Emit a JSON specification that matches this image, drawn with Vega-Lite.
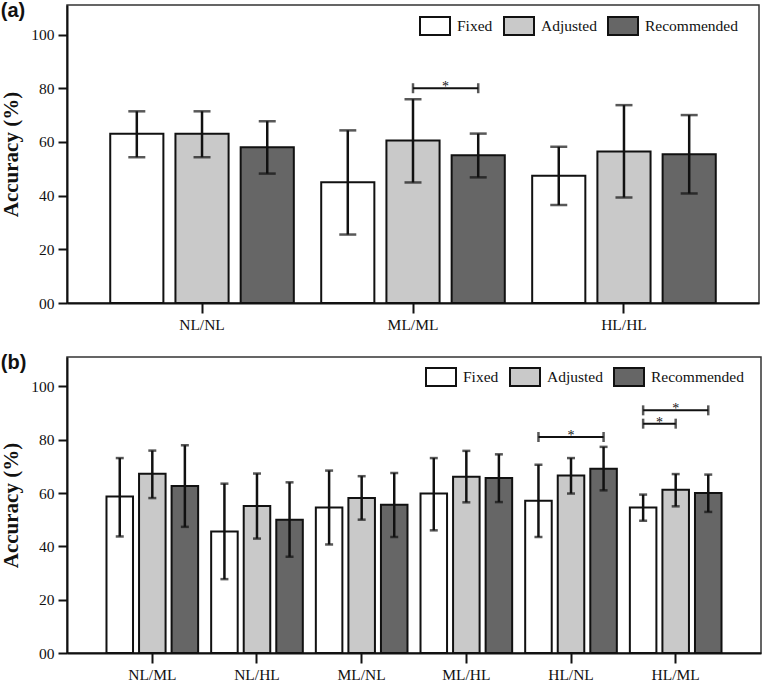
{
  "$schema": "https://vega.github.io/schema/vega-lite/v6.json",
  "padding": {"left": 0, "top": 0, "right": 0, "bottom": 0},
  "spacing": 18,
  "datasets": {
    "a": [
      {"group": "NL/NL", "series": "Fixed", "mean": 63, "lo": 54.3, "hi": 71.4},
      {"group": "NL/NL", "series": "Adjusted", "mean": 63, "lo": 54.3, "hi": 71.4},
      {"group": "NL/NL", "series": "Recommended", "mean": 58, "lo": 48.2, "hi": 67.7},
      {"group": "ML/ML", "series": "Fixed", "mean": 45, "lo": 25.5, "hi": 64.3},
      {"group": "ML/ML", "series": "Adjusted", "mean": 60.5, "lo": 44.9, "hi": 75.9},
      {"group": "ML/ML", "series": "Recommended", "mean": 55, "lo": 46.8, "hi": 63.1},
      {"group": "HL/HL", "series": "Fixed", "mean": 47.4, "lo": 36.5, "hi": 58.2},
      {"group": "HL/HL", "series": "Adjusted", "mean": 56.4, "lo": 39.3, "hi": 73.7},
      {"group": "HL/HL", "series": "Recommended", "mean": 55.4, "lo": 40.8, "hi": 70}
    ],
    "sigA": [
      {"group": "ML/ML", "left": "Adjusted", "right": "Recommended", "y": 80}
    ],
    "b": [
      {"group": "NL/ML", "series": "Fixed", "mean": 58.7, "lo": 43.7, "hi": 73.1},
      {"group": "NL/ML", "series": "Adjusted", "mean": 67.2, "lo": 58.1, "hi": 75.9},
      {"group": "NL/ML", "series": "Recommended", "mean": 62.6, "lo": 47.3, "hi": 77.9},
      {"group": "NL/HL", "series": "Fixed", "mean": 45.6, "lo": 27.7, "hi": 63.5},
      {"group": "NL/HL", "series": "Adjusted", "mean": 55.1, "lo": 42.9, "hi": 67.3},
      {"group": "NL/HL", "series": "Recommended", "mean": 50, "lo": 36.1, "hi": 64},
      {"group": "ML/NL", "series": "Fixed", "mean": 54.6, "lo": 40.7, "hi": 68.4},
      {"group": "ML/NL", "series": "Adjusted", "mean": 58.1, "lo": 50, "hi": 66.3},
      {"group": "ML/NL", "series": "Recommended", "mean": 55.6, "lo": 43.5, "hi": 67.5},
      {"group": "ML/HL", "series": "Fixed", "mean": 59.8, "lo": 46, "hi": 73.1},
      {"group": "ML/HL", "series": "Adjusted", "mean": 66.1, "lo": 56.5, "hi": 75.8},
      {"group": "ML/HL", "series": "Recommended", "mean": 65.6, "lo": 56.6, "hi": 74.5},
      {"group": "HL/NL", "series": "Fixed", "mean": 57.1, "lo": 43.5, "hi": 70.6},
      {"group": "HL/NL", "series": "Adjusted", "mean": 66.6, "lo": 59.8, "hi": 73.1},
      {"group": "HL/NL", "series": "Recommended", "mean": 69.1, "lo": 61, "hi": 77.3},
      {"group": "HL/ML", "series": "Fixed", "mean": 54.6, "lo": 49.6, "hi": 59.4},
      {"group": "HL/ML", "series": "Adjusted", "mean": 61.2, "lo": 55, "hi": 67.1},
      {"group": "HL/ML", "series": "Recommended", "mean": 60, "lo": 52.9, "hi": 66.9}
    ],
    "sigB": [
      {"group": "HL/NL", "left": "Fixed", "right": "Recommended", "y": 81},
      {"group": "HL/ML", "left": "Fixed", "right": "Adjusted", "y": 86},
      {"group": "HL/ML", "left": "Fixed", "right": "Recommended", "y": 91}
    ]
  },
  "vconcat": [
    {
      "width": 692,
      "height": 298,
      "title": {"text": "(a)"},
      "layer": [
        {
          "data": {"name": "a"},
          "mark": {"type": "bar", "stroke": "#111111", "strokeWidth": 2},
          "encoding": {
            "x": {"field": "group", "type": "nominal", "scale": {"domain": ["NL/NL", "ML/ML", "HL/HL"], "paddingInner": 0, "paddingOuter": 0.14}, "axis": {"title": null, "labelAngle": 0}},
            "xOffset": {"field": "series", "type": "nominal", "scale": {"domain": ["Fixed", "Adjusted", "Recommended"], "paddingInner": 0.185, "paddingOuter": 0.21}},
            "y": {"field": "mean", "type": "quantitative", "title": "Accuracy (%)", "scale": {"domain": [0, 111], "nice": false}, "axis": {"values": [0, 20, 40, 60, 80, 100], "labelExpr": "datum.value == 0 ? '00' : datum.label"}},
            "fill": {"field": "series", "type": "nominal", "scale": {"domain": ["Fixed", "Adjusted", "Recommended"], "range": ["#ffffff", "#c9c9c9", "#666666"]}, "legend": {"title": null, "orient": "none", "legendX": 352, "legendY": 5}}
          }
        },
        {
          "data": {"name": "a"},
          "mark": {"type": "rule", "color": "#111111", "strokeWidth": 2.5},
          "encoding": {
            "x": {"field": "group", "type": "nominal"},
            "xOffset": {"field": "series", "type": "nominal"},
            "y": {"field": "lo", "type": "quantitative", "title": "Accuracy (%)"},
            "y2": {"field": "hi"}
          }
        },
        {
          "data": {"name": "a"},
          "mark": {"type": "tick", "color": "#111111", "thickness": 2.5, "size": 17, "orient": "horizontal"},
          "encoding": {
            "x": {"field": "group", "type": "nominal"},
            "xOffset": {"field": "series", "type": "nominal"},
            "y": {"field": "lo", "type": "quantitative", "title": "Accuracy (%)"}
          }
        },
        {
          "data": {"name": "a"},
          "mark": {"type": "tick", "color": "#111111", "thickness": 2.5, "size": 17, "orient": "horizontal"},
          "encoding": {
            "x": {"field": "group", "type": "nominal"},
            "xOffset": {"field": "series", "type": "nominal"},
            "y": {"field": "hi", "type": "quantitative", "title": "Accuracy (%)"}
          }
        },
        {
          "data": {"name": "sigA"},
          "transform": [{"fold": ["left", "right"], "as": ["end", "series"]}],
          "mark": {"type": "line", "color": "#111111", "strokeWidth": 2},
          "encoding": {
            "x": {"field": "group", "type": "nominal"},
            "xOffset": {"field": "series", "type": "nominal"},
            "y": {"field": "y", "type": "quantitative", "title": "Accuracy (%)"},
            "detail": {"field": "y"}
          }
        },
        {
          "data": {"name": "sigA"},
          "transform": [{"fold": ["left", "right"], "as": ["end", "series"]}],
          "mark": {"type": "tick", "color": "#111111", "thickness": 2.5, "size": 10, "orient": "vertical"},
          "encoding": {
            "x": {"field": "group", "type": "nominal"},
            "xOffset": {"field": "series", "type": "nominal"},
            "y": {"field": "y", "type": "quantitative", "title": "Accuracy (%)"}
          }
        },
        {
          "data": {"name": "sigA"},
          "mark": {"type": "text", "text": "*", "fontSize": 14, "font": "Liberation Serif", "baseline": "alphabetic", "dy": 3, "dx": 32.5, "fill": "#111111"},
          "encoding": {
            "x": {"field": "group", "type": "nominal"},
            "xOffset": {"field": "left", "type": "nominal"},
            "y": {"field": "y", "type": "quantitative", "title": "Accuracy (%)"}
          }
        }
      ]
    },
    {
      "width": 694,
      "height": 296,
      "title": {"text": "(b)"},
      "layer": [
        {
          "data": {"name": "b"},
          "mark": {"type": "bar", "stroke": "#111111", "strokeWidth": 2},
          "encoding": {
            "x": {"field": "group", "type": "nominal", "scale": {"domain": ["NL/ML", "NL/HL", "ML/NL", "ML/HL", "HL/NL", "HL/ML"], "paddingInner": 0, "paddingOuter": 0.315}, "axis": {"title": null, "labelAngle": 0}},
            "xOffset": {"field": "series", "type": "nominal", "scale": {"domain": ["Fixed", "Adjusted", "Recommended"], "paddingInner": 0.185, "paddingOuter": 0.2}},
            "y": {"field": "mean", "type": "quantitative", "title": "Accuracy (%)", "scale": {"domain": [0, 111], "nice": false}, "axis": {"values": [0, 20, 40, 60, 80, 100], "labelExpr": "datum.value == 0 ? '00' : datum.label"}},
            "fill": {"field": "series", "type": "nominal", "scale": {"domain": ["Fixed", "Adjusted", "Recommended"], "range": ["#ffffff", "#c9c9c9", "#666666"]}, "legend": {"title": null, "orient": "none", "legendX": 358, "legendY": 4}}
          }
        },
        {
          "data": {"name": "b"},
          "mark": {"type": "rule", "color": "#111111", "strokeWidth": 2.5},
          "encoding": {
            "x": {"field": "group", "type": "nominal"},
            "xOffset": {"field": "series", "type": "nominal"},
            "y": {"field": "lo", "type": "quantitative", "title": "Accuracy (%)"},
            "y2": {"field": "hi"}
          }
        },
        {
          "data": {"name": "b"},
          "mark": {"type": "tick", "color": "#111111", "thickness": 2.5, "size": 8, "orient": "horizontal"},
          "encoding": {
            "x": {"field": "group", "type": "nominal"},
            "xOffset": {"field": "series", "type": "nominal"},
            "y": {"field": "lo", "type": "quantitative", "title": "Accuracy (%)"}
          }
        },
        {
          "data": {"name": "b"},
          "mark": {"type": "tick", "color": "#111111", "thickness": 2.5, "size": 8, "orient": "horizontal"},
          "encoding": {
            "x": {"field": "group", "type": "nominal"},
            "xOffset": {"field": "series", "type": "nominal"},
            "y": {"field": "hi", "type": "quantitative", "title": "Accuracy (%)"}
          }
        },
        {
          "data": {"name": "sigB"},
          "transform": [{"fold": ["left", "right"], "as": ["end", "series"]}],
          "mark": {"type": "line", "color": "#111111", "strokeWidth": 2},
          "encoding": {
            "x": {"field": "group", "type": "nominal"},
            "xOffset": {"field": "series", "type": "nominal"},
            "y": {"field": "y", "type": "quantitative", "title": "Accuracy (%)"},
            "detail": {"field": "y"}
          }
        },
        {
          "data": {"name": "sigB"},
          "transform": [{"fold": ["left", "right"], "as": ["end", "series"]}],
          "mark": {"type": "tick", "color": "#111111", "thickness": 2.5, "size": 10, "orient": "vertical"},
          "encoding": {
            "x": {"field": "group", "type": "nominal"},
            "xOffset": {"field": "series", "type": "nominal"},
            "y": {"field": "y", "type": "quantitative", "title": "Accuracy (%)"}
          }
        },
        {
          "data": {"name": "sigB"},
          "transform": [{"filter": "datum.left == 'Fixed' && datum.right == 'Recommended'"}],
          "mark": {"type": "text", "text": "*", "fontSize": 14, "font": "Liberation Serif", "baseline": "alphabetic", "dy": 3, "fill": "#111111"},
          "encoding": {
            "x": {"field": "group", "type": "nominal"},
            "y": {"field": "y", "type": "quantitative", "title": "Accuracy (%)"}
          }
        },
        {
          "data": {"name": "sigB"},
          "transform": [{"filter": "!(datum.left == 'Fixed' && datum.right == 'Recommended')"}],
          "mark": {"type": "text", "text": "*", "fontSize": 14, "font": "Liberation Serif", "baseline": "alphabetic", "dy": 3, "dx": 16.3, "fill": "#111111"},
          "encoding": {
            "x": {"field": "group", "type": "nominal"},
            "xOffset": {"field": "left", "type": "nominal"},
            "y": {"field": "y", "type": "quantitative", "title": "Accuracy (%)"}
          }
        }
      ]
    }
  ],
  "resolve": {"scale": {"fill": "independent", "x": "independent", "xOffset": "independent"}, "legend": {"fill": "independent"}},
  "config": {
    "font": "Liberation Serif",
    "view": {"stroke": "#333333", "strokeWidth": 1.5},
    "title": {"font": "Liberation Sans", "fontWeight": "bold", "fontSize": 20, "anchor": "start", "frame": "bounds", "color": "#111111", "offset": -16},
    "axis": {
      "labelFont": "Liberation Serif",
      "labelFontSize": 15.5,
      "labelColor": "#111111",
      "domainColor": "#111111",
      "domainWidth": 2,
      "tickColor": "#111111",
      "tickWidth": 2,
      "grid": false,
      "titleFont": "Liberation Serif",
      "titleFontWeight": "bold",
      "titleFontSize": 21,
      "titleColor": "#111111"
    },
    "axisX": {"tickSize": 10, "labelPadding": 4, "domain": true, "labelFont": "Liberation Serif"},
    "axisY": {"tickSize": 9, "labelPadding": 4, "titlePadding": 9, "labelFont": "Liberation Serif"},
    "legend": {
      "direction": "horizontal",
      "padding": 0,
      "labelFont": "Liberation Serif",
      "labelFontSize": 15.5,
      "labelColor": "#111111",
      "labelOffset": 6,
      "columnPadding": 7,
      "symbolType": "M-1,-0.6L1,-0.6L1,0.6L-1,0.6Z",
      "symbolSize": 900,
      "symbolStrokeColor": "#111111",
      "symbolStrokeWidth": 2,
      "symbolOpacity": 1
    }
  }
}
